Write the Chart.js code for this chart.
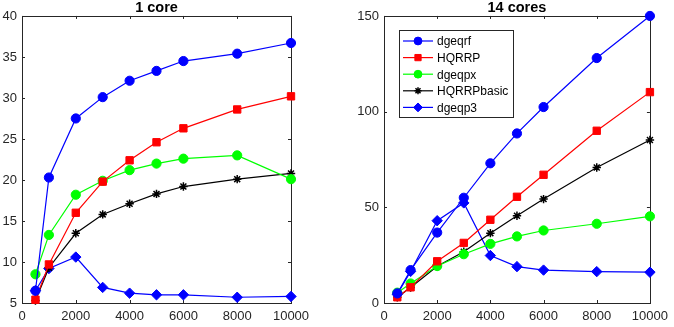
<!DOCTYPE html>
<html>
<head>
<meta charset="utf-8">
<script src="https://cdn.jsdelivr.net/npm/chart.js@4/dist/chart.umd.min.js"></script>
<style>
  body { margin: 0; background: #fff; }
  #wrap { position: relative; width: 674px; height: 327px; }
  .box { position: absolute; top: 0; height: 327px; }
</style>
</head>
<body>
<div id="wrap">
  <div class="box" style="left:0;width:337px"><canvas id="oneCore"></canvas></div>
  <div class="box" style="left:337px;width:337px"><canvas id="manyCore"></canvas></div>
</div>
<script>
// matrix sizes
var sizes = [500, 1000, 2000, 3000, 4000, 5000, 6000, 8000, 10000];
var x_ticks = [0, 2000, 4000, 6000, 8000, 10000];

// 1 core (Gflops)
var one_dgeqrf = [6.5, 20.3, 27.5, 30.1, 32.1, 33.3, 34.5, 35.4, 36.7];
var one_hqrrp = [5.4, 9.7, 16.0, 19.8, 22.4, 24.6, 26.3, 28.6, 30.2];
var one_dgeqpx = [8.5, 13.3, 18.2, 19.9, 21.2, 22.0, 22.6, 23.0, 20.1];
var one_basic = [5.3, 9.3, 13.5, 15.8, 17.1, 18.3, 19.2, 20.1, 20.8];
var one_dgeqp3 = [6.5, 9.2, 10.6, 6.9, 6.2, 6.0, 6.0, 5.7, 5.8];

// 14 cores
var many_dgeqrf = [5.0, 17.2, 36.8, 55.0, 73.0, 88.6, 102.4, 128.0, 150.0];
var many_hqrrp = [3.0, 8.2, 21.8, 31.4, 43.5, 55.5, 67.0, 90.0, 110.2];
var many_dgeqpx = [5.4, 10.2, 19.3, 25.5, 30.9, 34.8, 37.9, 41.4, 45.3];
var many_basic = [3.0, 8.1, 19.2, 26.8, 36.5, 45.6, 54.3, 70.8, 85.2];
var many_dgeqp3 = [4.6, 16.5, 43.0, 52.3, 24.8, 19.0, 17.2, 16.4, 16.1];

var series_names = ["dgeqrf", "HQRRP", "dgeqpx", "HQRRPbasic", "dgeqp3"];
var series_colors = ["#0000ff", "#ff0000", "#00ff00", "#000000", "#0000ff"];
var series_marks = ["circle", "rect", "circle", "star", "rectRot"];
var series_radius = [4.6, 5.2, 4.6, 4.2, 5.2];

var axis_col = "#262626";
var tick_font = { family: "'Liberation Sans', Arial, sans-serif", size: 13 };

function make_points(vals) {
    var pts = [];
    var i = 0;
    while (i < sizes.length) {
        pts.push({ "x": sizes[i], "y": vals[i] });
        i = i + 1;
    }
    return pts;
}

function make_sets(lists) {
    var sets = [];
    for (var i = 0; i < lists.length; i++) {
        var c = series_colors[i];
        sets.push({
            label: series_names[i],
            data: make_points(lists[i]),
            borderColor: c,
            backgroundColor: c,
            borderWidth: 1.2,
            pointStyle: series_marks[i],
            pointRadius: series_radius[i],
            pointHoverRadius: series_radius[i],
            pointBorderColor: c,
            pointBackgroundColor: c,
            pointBorderWidth: series_marks[i] == "star" ? 1.5 : 1,
            clip: false,
            tension: 0
        });
    }
    return sets;
}

// box round the plot with inward ticks, matlab style
var boxPlugin = {
    id: "box",
    beforeDatasetsDraw: function (chart) {
        var c = chart.ctx;
        var a = chart.chartArea;
        var xs = chart.scales.x;
        var ys = chart.scales.y;
        c.save();
        c.strokeStyle = axis_col;
        c.lineWidth = 1;
        c.strokeRect(Math.round(a.left) + 0.5, Math.round(a.top) + 0.5,
            Math.round(a.right - a.left), Math.round(a.bottom - a.top));
        c.beginPath();
        xs.ticks.forEach(function (t) {
            var px = Math.round(xs.getPixelForValue(t.value)) + 0.5;
            c.moveTo(px, a.bottom); c.lineTo(px, a.bottom - 3);
            c.moveTo(px, a.top); c.lineTo(px, a.top + 3);
        });
        ys.ticks.forEach(function (t) {
            var py = Math.round(ys.getPixelForValue(t.value)) + 0.5;
            c.moveTo(a.left, py); c.lineTo(a.left + 3, py);
            c.moveTo(a.right, py); c.lineTo(a.right - 3, py);
        });
        c.stroke();
        c.restore();
    }
};

// legend box in the upper left of the 14 cores plot
var legendPlugin = {
    id: "boxLegend",
    afterDatasetsDraw: function (chart, args, opts) {
        if (!opts.show) return;
        var c = chart.ctx;
        var bx = 62, by = 30, bw = 114, bh = 87;
        c.save();
        c.fillStyle = "#fff";
        c.fillRect(bx, by, bw, bh);
        c.strokeStyle = axis_col;
        c.lineWidth = 1;
        c.strokeRect(bx + 0.5, by + 0.5, bw, bh);
        c.font = "12px 'Liberation Sans', Arial, sans-serif";
        c.textBaseline = "middle";
        for (var i = 0; i < series_names.length; i++) {
            var ry = 41 + i * 16.6;
            var col = series_colors[i];
            c.strokeStyle = col;
            c.lineWidth = 1.2;
            c.beginPath();
            c.moveTo(66, ry); c.lineTo(96, ry);
            c.stroke();
            c.fillStyle = col;
            c.lineWidth = series_marks[i] == "star" ? 1.5 : 1;
            Chart.helpers.drawPoint(c, {
                pointStyle: series_marks[i],
                radius: series_radius[i] * 0.85,
                rotation: 0,
                borderWidth: 1
            }, 81, ry);
            c.fillStyle = "#000";
            c.fillText(series_names[i], 100, ry + 1);
        }
        c.restore();
    }
};

function draw_chart(id, title, lists, ymin, ymax, ystep, ywidth, padRight, legend) {
    var ctx = document.getElementById(id).getContext("2d");
    return new Chart(ctx, {
        type: "line",
        data: { datasets: make_sets(lists) },
        plugins: [boxPlugin, legendPlugin],
        options: {
            responsive: true,
            maintainAspectRatio: false,
            animation: false,
            layout: { padding: { left: 0, right: padRight, top: 0, bottom: 0 } },
            plugins: {
                legend: { display: false },
                tooltip: { enabled: false },
                boxLegend: { show: legend },
                title: {
                    display: true,
                    text: title,
                    fullSize: false,
                    color: "#000",
                    font: { family: "'Liberation Sans', Arial, sans-serif", size: 14.5, weight: "bold", lineHeight: 1.1 },
                    padding: { top: 0, bottom: 0 }
                }
            },
            scales: {
                x: {
                    type: "linear",
                    min: 0,
                    max: 10000,
                    grid: { display: false, drawTicks: false },
                    border: { display: false },
                    afterBuildTicks: function (s) {
                        s.ticks = x_ticks.map(function (v) { return { value: v }; });
                    },
                    afterFit: function (s) { s.height = 24; },
                    ticks: {
                        color: axis_col,
                        font: tick_font,
                        padding: 6,
                        maxRotation: 0,
                        autoSkip: false,
                        callback: function (v) { return String(v); }
                    }
                },
                y: {
                    type: "linear",
                    min: ymin,
                    max: ymax,
                    grid: { display: false, drawTicks: false },
                    border: { display: false },
                    afterFit: function (s) { s.width = ywidth; },
                    ticks: {
                        color: axis_col,
                        font: tick_font,
                        padding: 5,
                        stepSize: ystep
                    }
                }
            }
        }
    });
}

window.chart_one = draw_chart("oneCore", "1 core",
    [one_dgeqrf, one_hqrrp, one_dgeqpx, one_basic, one_dgeqp3], 5, 40, 5, 22, 46, false);
window.chart_many = draw_chart("manyCore", "14 cores",
    [many_dgeqrf, many_hqrrp, many_dgeqpx, many_basic, many_dgeqp3], 0, 150, 50, 47, 20, true);
</script>
</body>
</html>
